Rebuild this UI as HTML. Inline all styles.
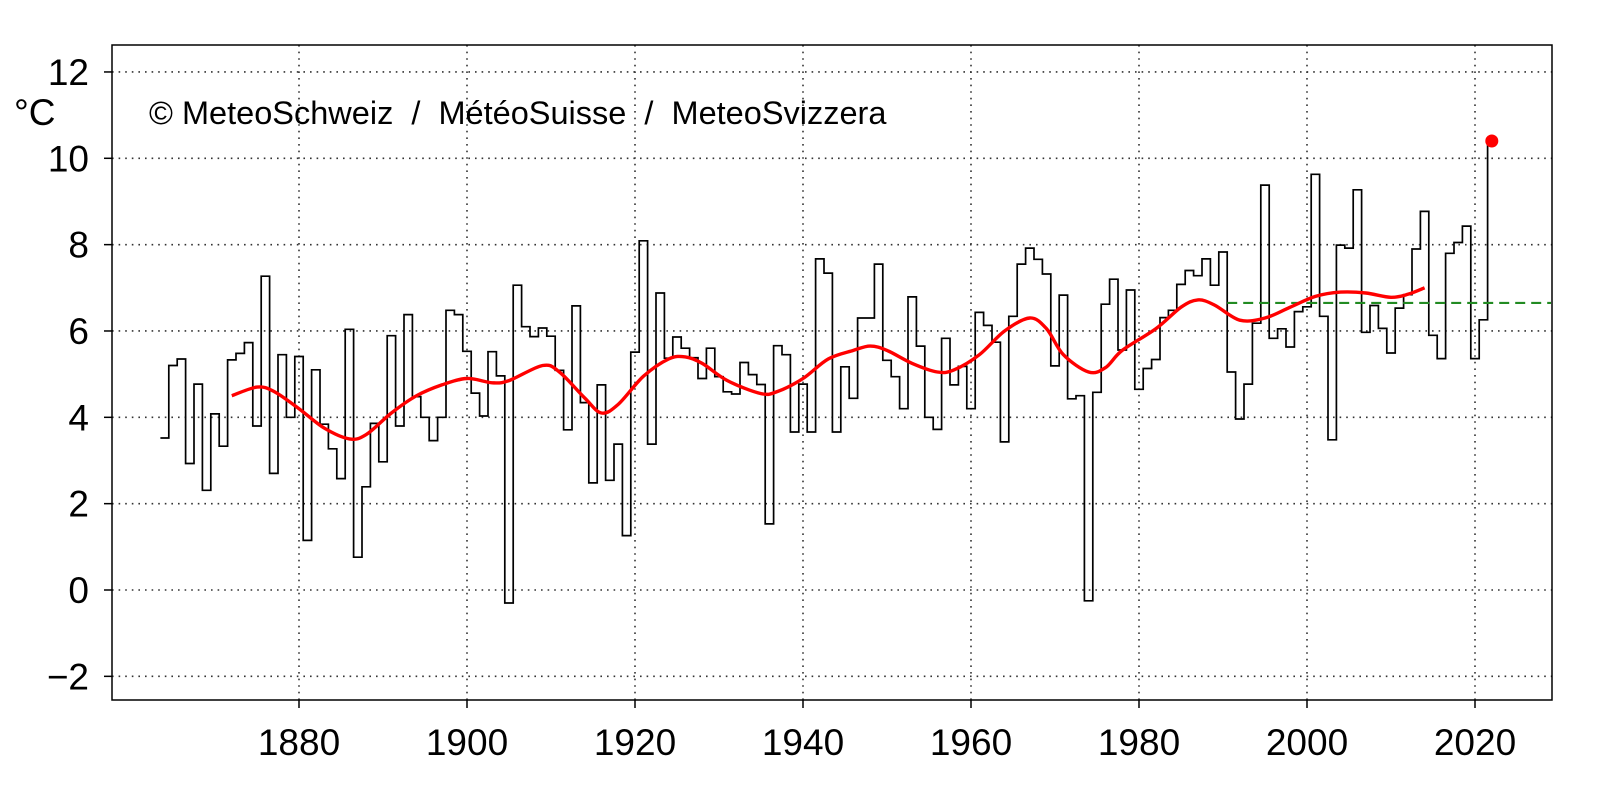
<!DOCTYPE html>
<html><head><meta charset="utf-8"><style>
html,body{margin:0;padding:0;background:#fff;}
svg{display:block;font-family:"Liberation Sans",Arial,sans-serif;}
</style></head><body>
<svg id="s" width="1598" height="810" xmlns="http://www.w3.org/2000/svg"></svg>
<script>
const s=document.getElementById('s');
const X=yr=>299+(yr-1880)*8.4, Y=v=>590-43.17*v;
let h='';
for(let yr=1880;yr<=2020;yr+=20) h+=`<line x1="${X(yr)}" y1="45" x2="${X(yr)}" y2="700" stroke="#333" stroke-width="1.6" stroke-dasharray="1.6,5"/>`;
for(let v=-2;v<=12;v+=2) h+=`<line x1="112" y1="${Y(v)}" x2="1552" y2="${Y(v)}" stroke="#333" stroke-width="1.6" stroke-dasharray="1.6,5"/>`;
h+=`<rect x="112" y="45" width="1440" height="655" fill="none" stroke="#000" stroke-width="1.5"/>`;
for(let v=-2;v<=12;v+=2){h+=`<line x1="104" y1="${Y(v)}" x2="112" y2="${Y(v)}" stroke="#000" stroke-width="1.5"/>`;
 h+=`<text x="89" y="${Y(v)+13}" font-size="37" text-anchor="end">${v<0?'\u2212'+(-v):v}</text>`;}
for(let yr=1880;yr<=2020;yr+=20){h+=`<line x1="${X(yr)}" y1="700" x2="${X(yr)}" y2="708" stroke="#000" stroke-width="1.5"/>`;
 h+=`<text x="${X(yr)}" y="755" font-size="37" text-anchor="middle">${yr}</text>`;}
h+=`<text x="14" y="125" font-size="37">°C</text>`;
h+=`<text x="149" y="124" font-size="32.5" xml:space="preserve">© MeteoSchweiz  /  MétéoSuisse  /  MeteoSvizzera</text>`;
const d=[3.52,5.2,5.35,2.93,4.77,2.31,4.08,3.33,5.33,5.48,5.73,3.8,7.27,2.7,5.45,4.0,
5.41,1.15,5.1,3.84,3.27,2.58,6.04,0.76,2.39,3.86,2.97,5.89,3.8,6.38,4.48,4.0,3.46,4.0,6.48,6.38,
5.53,4.56,4.03,5.52,4.96,-0.3,7.06,6.1,5.87,6.07,5.88,5.09,3.71,6.58,4.34,2.48,4.75,2.54,3.38,1.26,
5.51,8.09,3.38,6.88,5.37,5.86,5.6,5.38,4.9,5.6,4.94,4.59,4.54,5.27,4.99,4.76,1.53,5.66,5.45,3.66,
4.77,3.66,7.67,7.34,3.66,5.17,4.44,6.3,6.3,7.55,5.32,4.94,4.2,6.79,5.65,4.0,3.72,5.83,4.75,5.18,
4.2,6.43,6.13,5.74,3.43,6.34,7.55,7.92,7.66,7.32,5.19,6.83,4.43,4.5,-0.25,4.58,6.62,7.2,5.56,6.95,
4.65,5.13,5.34,6.31,6.48,7.08,7.4,7.28,7.67,7.06,7.83,5.05,3.96,4.77,6.18,9.38,5.83,6.05,5.63,6.45,
6.56,9.63,6.34,3.48,7.99,7.92,9.27,5.97,6.59,6.06,5.49,6.53,6.84,7.9,8.77,5.9,5.36,7.8,8.05,8.43,
5.36,6.26,10.4];
let p='';
d.forEach((v,i)=>{const yr=1864+i;const a=X(yr-0.5),b=X(yr+0.5);
 p+=(i?'L':'M')+a.toFixed(1)+','+Y(v).toFixed(1)+'L'+b.toFixed(1)+','+Y(v).toFixed(1);});
h+=`<path d="${p}" fill="none" stroke="#000" stroke-width="1.7"/>`;
h+=`<line x1="${X(1990.5)}" y1="${Y(6.65)}" x2="1551" y2="${Y(6.65)}" stroke="#228b22" stroke-width="2.2" stroke-dasharray="10,6"/>`;
const sm=[[1872,4.5],[1875,4.7],[1877,4.6],[1880,4.2],[1883,3.75],[1886,3.5],[1888,3.6],[1891,4.1],[1894,4.5],[1897,4.75],[1900,4.9],[1903,4.8],[1905,4.85],[1909,5.2],[1911,5.05],[1914,4.45],[1916,4.1],[1918,4.3],[1921,4.95],[1924,5.35],[1926,5.4],[1928,5.25],[1931,4.85],[1935,4.55],[1937,4.6],[1940,4.9],[1943,5.35],[1946,5.55],[1948,5.65],[1950,5.55],[1953,5.25],[1956,5.05],[1958,5.1],[1961,5.45],[1964,6.0],[1967,6.3],[1969,6.05],[1971,5.45],[1974,5.05],[1976,5.15],[1978,5.55],[1982,6.05],[1985,6.55],[1987,6.72],[1989,6.6],[1992,6.25],[1995,6.3],[1998,6.55],[2001,6.8],[2004,6.9],[2007,6.88],[2010,6.78],[2012,6.85],[2014,7.0]];
const P=sm.map(q=>[X(q[0]),Y(q[1])]);
let c='M'+P[0].join(',');
for(let i=0;i<P.length-1;i++){const p0=P[i-1]||P[i],p1=P[i],p2=P[i+1],p3=P[i+2]||P[i+1];
 c+=`C${(p1[0]+(p2[0]-p0[0])/6).toFixed(1)},${(p1[1]+(p2[1]-p0[1])/6).toFixed(1)} ${(p2[0]-(p3[0]-p1[0])/6).toFixed(1)},${(p2[1]-(p3[1]-p1[1])/6).toFixed(1)} ${p2[0].toFixed(1)},${p2[1].toFixed(1)}`;}
h+=`<path d="${c}" fill="none" stroke="#ff0000" stroke-width="3.4"/>`;
h+=`<circle cx="${X(2022)}" cy="${Y(10.4)}" r="6.5" fill="#ff0000"/>`;
s.innerHTML=h;
</script>
</body></html>
